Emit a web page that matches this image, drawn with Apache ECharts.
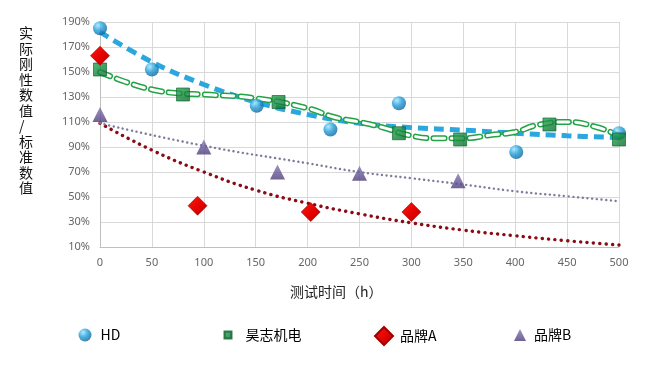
<!DOCTYPE html>
<html>
<head>
<meta charset="utf-8">
<script src="https://cdn.jsdelivr.net/npm/echarts@6/dist/echarts.min.js"></script>
<style>
html,body{margin:0;padding:0;background:#fff;}
#chart{width:650px;height:367px;}
</style>
</head>
<body>
<div id="chart"></div>
<script>
// ---- data (values in %, x in hours) ----
const seriesNames = ['HD', '昊志机电', '品牌A', '品牌B'];
const hdX = [0, 50, 151, 222, 288, 401, 500];
const hdY = [185, 152, 123, 104, 125, 86, 101];
const hzX = [0, 80, 172, 288, 347, 433, 500];
const hzY = [152, 132, 126, 101, 96, 108, 96];
const aX = [0, 94, 203, 300];
const aY = [163, 43, 38, 38];
const bX = [0, 100, 171, 250, 345];
const bY = [116, 90, 70, 69, 63];

// trend lines
const hdTrendX = [0, 50, 100, 150, 200, 250, 300, 350, 400, 450, 500];
const hdTrendY = [182, 158, 140, 126, 116, 109, 105.5, 103.5, 101, 99, 97.5];
const hzTrendX = [0, 25, 50, 75, 100, 150, 200, 225, 250, 273, 300, 324, 350, 376, 400, 421, 450, 478, 500];
const hzTrendY = [150, 142, 136, 133, 132, 129, 121, 114, 110, 105.5, 99, 97, 97, 99.5, 102, 107.5, 110, 106, 99];
const aTrendX = [0, 50, 100, 150, 200, 250, 300, 350, 400, 450, 500];
const aTrendY = [109, 87.5, 70, 55.5, 45, 36.5, 29.3, 23.5, 19, 15, 11.6];
const bTrendX = [0, 100, 200, 250, 300, 350, 400, 450, 500];
const bTrendY = [109, 91, 77, 70, 65, 60, 54.6, 50.6, 46.6];

const yMinLabel = 10, yMaxLabel = 190, yStep = 20;
const xMin = 0, xMax = 500, xStep = 50;
const yTitle = '实际刚性数值/标准数值';
const xTitle = '测试时间（h）';

// ---- build ----
const off = yMinLabel; // axis is shifted so ticks start at a multiple of the interval
const pts = (xs, ys) => xs.map((x, i) => [x, ys[i] - off]);

const blueGrad = {type:'radial', x:0.35, y:0.3, r:0.8, colorStops:[{offset:0,color:'#9fe3ff'},{offset:0.45,color:'#1f9dd8'},{offset:1,color:'#0a5a8e'}]};
const greenGrad = {type:'linear', x:0, y:0, x2:1, y2:1, colorStops:[{offset:0,color:'#25a650'},{offset:1,color:'#0a6a2c'}]};
const redGrad = {type:'linear', x:0, y:0, x2:1, y2:1, colorStops:[{offset:0,color:'#ff1a0a'},{offset:0.6,color:'#e00000'},{offset:1,color:'#b00000'}]};
const purpleGrad = {type:'linear', x:0, y:0, x2:0, y2:1, colorStops:[{offset:0,color:'#8676b8'},{offset:1,color:'#4a3c78'}]};

const chart = echarts.init(document.getElementById('chart'), null, {renderer:'canvas'});

const legendBase = {
  orient:'horizontal', top:326, padding:0,
  textStyle:{fontSize:14, color:'#000', lineHeight:18, fontFamily:'"Noto Sans CJK SC", sans-serif'}
};

chart.setOption({
  animation:false,
  backgroundColor:'#fff',
  grid:{left:100, right:31, top:22, bottom:120, containLabel:false},
  xAxis:{
    type:'value', min:xMin, max:xMax, interval:xStep,
    axisLine:{show:true, lineStyle:{color:'#bfbfbf'}},
    axisTick:{show:false},
    splitLine:{show:true, lineStyle:{color:'#d9d9d9'}},
    axisLabel:{color:'#666', fontSize:11, margin:10, fontFamily:'"Noto Sans", sans-serif'}
  },
  yAxis:{
    type:'value', min:yMinLabel - off, max:yMaxLabel - off, interval:yStep,
    axisLine:{show:true, lineStyle:{color:'#bfbfbf'}},
    axisTick:{show:false},
    splitLine:{show:true, lineStyle:{color:'#d9d9d9'}},
    axisLabel:{color:'#666', fontSize:11, margin:10, formatter:v => (v + off) + '%', fontFamily:'"Noto Sans", sans-serif'}
  },
  legend:[
    Object.assign({}, legendBase, {left:78.5, itemWidth:13, itemHeight:13, data:[{name:'HD', icon:'circle'}], textStyle:Object.assign({}, legendBase.textStyle, {padding:[0,0,0,4]})}),
    Object.assign({}, legendBase, {left:223.5, itemWidth:7, itemHeight:7, data:[{name:'昊志机电', icon:'rect'}], textStyle:Object.assign({}, legendBase.textStyle, {padding:[0,0,0,9]})}),
    Object.assign({}, legendBase, {left:374, itemWidth:18, itemHeight:18, data:[{name:'品牌A', icon:'diamond'}], textStyle:Object.assign({}, legendBase.textStyle, {padding:[0,0,0,2]})}),
    Object.assign({}, legendBase, {left:514, itemWidth:12, itemHeight:12, data:[{name:'品牌B', icon:'triangle'}], textStyle:Object.assign({}, legendBase.textStyle, {padding:[0,0,0,3]})})
  ],
  graphic:[
    {type:'text', left:19, top:25, z:10,
     style:{text:yTitle.split('').join('\n'), lineHeight:15.5, fill:'#111', align:'center',
            font:'14px "Noto Sans CJK SC", sans-serif'}},
    {type:'text', left:290, top:285, z:10,
     style:{text:xTitle, fill:'#222', font:'14px "Noto Sans CJK SC", sans-serif'}}
  ],
  series:[
    {name:'HD趋势', type:'line', smooth:0.4, symbol:'none', z:2, data:pts(hdTrendX, hdTrendY),
     lineStyle:{color:'#2aa7de', width:5, type:[10,6], cap:'butt'}},
    {name:'昊志趋势外', type:'line', smooth:0.5, symbol:'none', z:2, data:pts(hzTrendX, hzTrendY),
     lineStyle:{color:'#23a346', width:6, type:[11,7], cap:'round'}},
    {name:'昊志趋势内', type:'line', smooth:0.5, symbol:'none', z:2, data:pts(hzTrendX, hzTrendY),
     lineStyle:{color:'#ffffff', width:3, type:[11,7], cap:'round'}},
    {name:'A趋势', type:'line', smooth:0.5, symbol:'none', z:2, data:pts(aTrendX, aTrendY),
     lineStyle:{color:'#8b0a14', width:3.4, type:[0.1,6.3], cap:'round'}},
    {name:'B趋势', type:'line', smooth:0.5, symbol:'none', z:2, data:pts(bTrendX, bTrendY),
     lineStyle:{color:'#7d7a9c', width:2.4, type:[0.1,4.6], cap:'round'}},
    {name:'HD', type:'scatter', symbol:'circle', symbolSize:14, z:5, data:pts(hdX, hdY),
     itemStyle:{color:blueGrad}},
    {name:'昊志机电', type:'scatter', symbol:'rect', symbolSize:13, z:5, data:pts(hzX, hzY),
     itemStyle:{color:greenGrad, borderColor:'#0b5e2a', borderWidth:0.8}},
    {name:'品牌A', type:'scatter', symbol:'diamond', symbolSize:19, z:5, data:pts(aX, aY),
     itemStyle:{color:redGrad, borderColor:'#a00000', borderWidth:0.6, opacity:1}},
    {name:'品牌B', type:'scatter', symbol:'triangle', symbolSize:15, z:5, data:pts(bX, bY),
     itemStyle:{color:purpleGrad}}
  ]
});
</script>
</body>
</html>
